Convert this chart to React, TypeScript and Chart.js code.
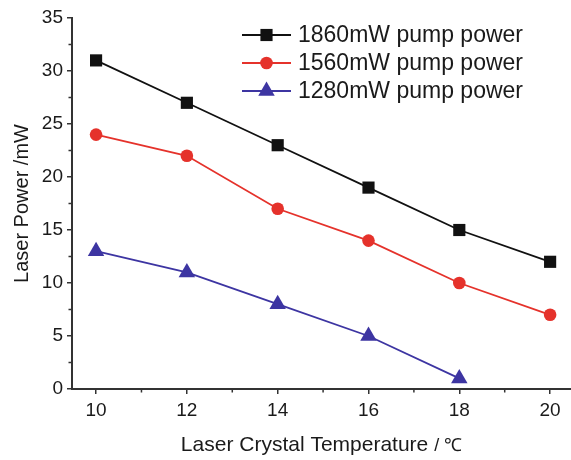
import React, { useEffect, useRef } from "react";
import { Chart, registerables } from "chart.js";

Chart.register(...registerables);

const temperatures = [10, 12, 14, 16, 18, 20];
const power1860 = [31, 27, 23, 19, 15, 12];
const power1560 = [24, 22, 17, 14, 10, 7];
const power1280 = [13, 11, 8, 5, 1];
const seriesLabels = ["1860mW pump power", "1560mW pump power", "1280mW pump power"];
const xMajorTicks = [10, 12, 14, 16, 18, 20];
const xMinorTicks = [11, 13, 15, 17, 19];
const yMajorTicks = [0, 5, 10, 15, 20, 25, 30, 35];
const yMinorTicks = [2.5, 7.5, 12.5, 17.5, 22.5, 27.5, 32.5];
const xTitleMain = "Laser Crystal Temperature ";
const xTitleUnit = "/ ℃";
const yTitle = "Laser Power /mW";

const FONT = "'Liberation Sans', Arial, sans-serif";
const AXIS = "#333";
const colors = ["#111111", "#e5322b", "#3d35a2"];
const styles = ["rect", "circle", "triangle"];
const radii = [8.6, 6.3, 9.5];

function drawMarker(ctx: CanvasRenderingContext2D, style: string, x: number, y: number, r: number, color: string) {
  ctx.save();
  ctx.fillStyle = color;
  ctx.beginPath();
  if (style === "rect") {
    const s = Math.SQRT1_2 * r;
    ctx.rect(x - s, y - s, 2 * s, 2 * s);
  } else if (style === "circle") {
    ctx.arc(x, y, r, 0, Math.PI * 2);
  } else {
    let rad = 0;
    ctx.moveTo(x + Math.sin(rad) * r, y - Math.cos(rad) * r);
    rad += (2 * Math.PI) / 3;
    ctx.lineTo(x + Math.sin(rad) * r, y - Math.cos(rad) * r);
    rad += (2 * Math.PI) / 3;
    ctx.lineTo(x + Math.sin(rad) * r, y - Math.cos(rad) * r);
    ctx.closePath();
  }
  ctx.fill();
  ctx.restore();
}

const decorPlugin = {
  id: "decor",
  afterDraw(chart: any) {
    const ctx: CanvasRenderingContext2D = chart.ctx;
    const area = chart.chartArea;
    const xs = chart.scales.x;
    const ys = chart.scales.y;
    ctx.save();
    // minor ticks
    ctx.strokeStyle = AXIS;
    ctx.lineWidth = 1.5;
    ctx.beginPath();
    xMinorTicks.forEach((v) => {
      const px = xs.getPixelForValue(v);
      ctx.moveTo(px, area.bottom);
      ctx.lineTo(px, area.bottom + 3.5);
    });
    yMinorTicks.forEach((v) => {
      const py = ys.getPixelForValue(v);
      ctx.moveTo(area.left, py);
      ctx.lineTo(area.left - 3.5, py);
    });
    ctx.stroke();

    // legend
    const lx0 = 242;
    const lx1 = 291;
    const ly0 = 35;
    const lstep = 28;
    seriesLabels.forEach((lab, i) => {
      const y = ly0 + i * lstep;
      ctx.strokeStyle = colors[i];
      ctx.lineWidth = 1.8;
      ctx.beginPath();
      ctx.moveTo(lx0, y);
      ctx.lineTo(lx1, y);
      ctx.stroke();
      drawMarker(ctx, styles[i], (lx0 + lx1) / 2, y, radii[i], colors[i]);
      ctx.fillStyle = "#1a1a1a";
      ctx.font = `23px ${FONT}`;
      ctx.textBaseline = "middle";
      ctx.textAlign = "left";
      ctx.fillText(lab, 298, y + 1);
    });

    // x title
    ctx.fillStyle = "#1a1a1a";
    ctx.textBaseline = "alphabetic";
    ctx.font = `21px ${FONT}`;
    const w1 = ctx.measureText(xTitleMain).width;
    ctx.font = `18px ${FONT}`;
    const w2 = ctx.measureText(xTitleUnit).width;
    const cx = (area.left + area.right) / 2;
    const startX = cx - (w1 + w2) / 2;
    ctx.font = `21px ${FONT}`;
    ctx.fillText(xTitleMain, startX, 451);
    ctx.font = `18px ${FONT}`;
    ctx.fillText(xTitleUnit, startX + w1, 451);

    // y title
    ctx.save();
    ctx.translate(22, (area.top + area.bottom) / 2);
    ctx.rotate(-Math.PI / 2);
    ctx.font = `20px ${FONT}`;
    ctx.textAlign = "center";
    ctx.textBaseline = "middle";
    ctx.fillText(yTitle, 0, 0);
    ctx.restore();

    ctx.restore();
  },
};

export default function App() {
  const ref = useRef<HTMLCanvasElement | null>(null);
  useEffect(() => {
    if (!ref.current) return;
    const mk = (data: number[], i: number) => ({
      label: seriesLabels[i],
      data: data.map((v, k) => ({ x: temperatures[k], y: v })),
      borderColor: colors[i],
      backgroundColor: colors[i],
      borderWidth: 1.8,
      pointStyle: styles[i] as any,
      pointRadius: radii[i],
      pointBorderWidth: 0,
      pointBorderColor: colors[i],
      pointBackgroundColor: colors[i],
      tension: 0,
      clip: false as any,
    });
    const chart = new Chart(ref.current, {
      type: "line",
      data: {
        datasets: [mk(power1860, 0), mk(power1560, 1), mk(power1280, 2)],
      },
      options: {
        animation: false,
        responsive: false,
        devicePixelRatio: 1,
        layout: { autoPadding: false, padding: { top: 18, right: 0, left: 0, bottom: 0 } },
        plugins: { legend: { display: false }, tooltip: { enabled: false } },
        scales: {
          x: {
            type: "linear",
            min: 9.47,
            max: 20.46,
            afterFit: (s: any) => {
              s.height = 71;
              s.paddingLeft = 0;
              s.paddingRight = 0;
            },
            afterBuildTicks: (s: any) => {
              s.ticks = xMajorTicks.map((v) => ({ value: v }));
            },
            grid: {
              display: true,
              drawOnChartArea: false,
              drawTicks: true,
              tickLength: 5,
              color: AXIS,
              lineWidth: 1.5,
            },
            border: { display: true, color: AXIS, width: 2 },
            ticks: {
              padding: 5,
              color: "#1a1a1a",
              font: { size: 19, family: FONT },
              maxRotation: 0,
              autoSkip: false,
              callback: (v: any) => String(v),
            },
          },
          y: {
            type: "linear",
            min: 0,
            max: 35,
            afterFit: (s: any) => {
              s.width = 72;
              s.paddingTop = 0;
              s.paddingBottom = 0;
            },
            afterBuildTicks: (s: any) => {
              s.ticks = yMajorTicks.map((v) => ({ value: v }));
            },
            grid: {
              display: true,
              drawOnChartArea: false,
              drawTicks: true,
              tickLength: 5,
              color: AXIS,
              lineWidth: 1.5,
            },
            border: { display: true, color: AXIS, width: 2 },
            ticks: {
              padding: 4,
              color: "#1a1a1a",
              font: { size: 19, family: FONT },
              autoSkip: false,
              callback: (v: any) => String(v),
            },
          },
        },
      },
      plugins: [decorPlugin],
    });
    return () => chart.destroy();
  }, []);
  return (
    <div style={{ position: "absolute", left: 0, top: 0, width: 571, height: 460, background: "#fff" }}>
      <canvas ref={ref} width={571} height={460} style={{ display: "block", width: 571, height: 460 }} />
    </div>
  );
}
